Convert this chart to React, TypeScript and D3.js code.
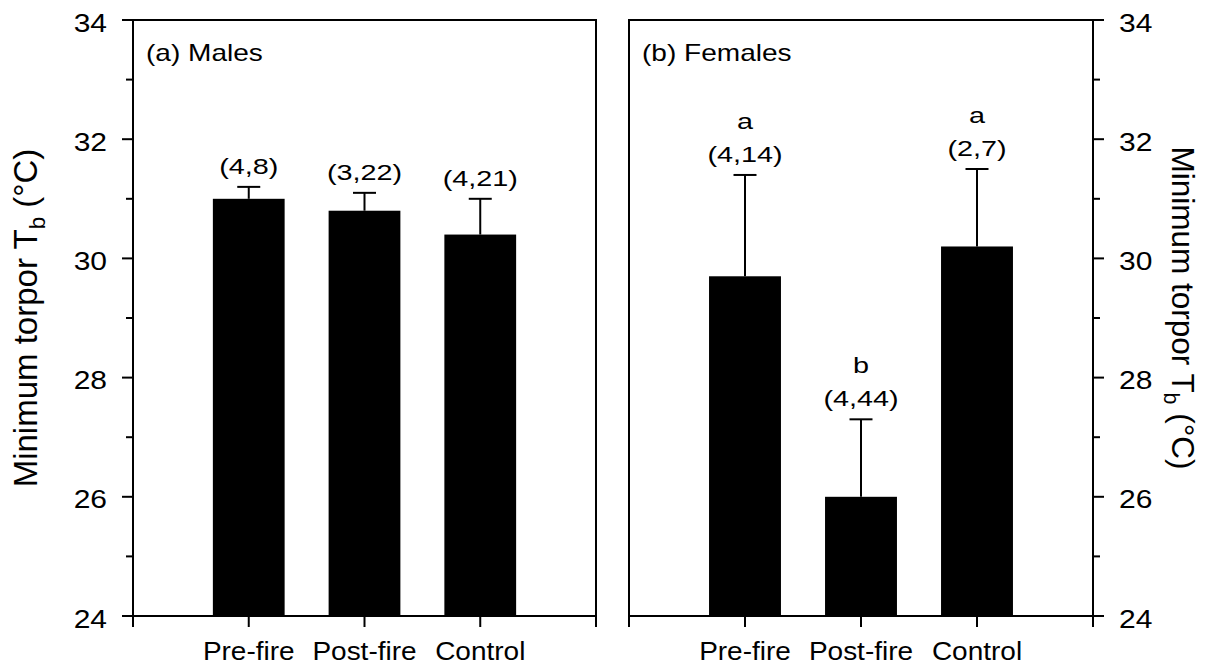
import React from "react";
import * as d3 from "d3";

const categories = ["Pre-fire", "Post-fire", "Control"];
const maleMeans = [31.0, 30.8, 30.4];
const maleUpper = [31.2, 31.1, 31.0];
const maleN = ["(4,8)", "(3,22)", "(4,21)"];
const femaleMeans = [29.7, 26.0, 30.2];
const femaleUpper = [31.4, 27.3, 31.5];
const femaleN = ["(4,14)", "(4,44)", "(2,7)"];
const femaleLetters = ["a", "b", "a"];
const majorTicks = [24, 26, 28, 30, 32, 34];
const minorTicks = [25, 27, 29, 31, 33];

const W = 1208;
const H = 670;
const TOP = 20;
const BOTTOM = 616;
const FONT = "'Liberation Sans', Arial, sans-serif";

const y = d3.scaleLinear().domain([24, 34]).range([BOTTOM, TOP]);

function T({ x, y: yy, size, sx = 1.2, anchor = "middle", children }: any) {
  return (
    <text
      transform={`translate(${x},${yy}) scale(${sx},1)`}
      fontSize={size}
      textAnchor={anchor}
      fontFamily={FONT}
      fill="#000"
    >
      {children}
    </text>
  );
}

function Panel({ x0, x1, means, upper, nLabels, letters, title, side }: any) {
  const x = d3.scaleLinear().domain([0, 4]).range([x0, x1]);
  const bw = x(0.62) - x(0);
  const capW = 23;
  const axisX = side === "left" ? x0 : x1;
  const dir = side === "left" ? -1 : 1;
  return (
    <g>
      <rect x={x0} y={TOP} width={x1 - x0} height={BOTTOM - TOP} fill="none" stroke="#000" strokeWidth={2} />
      {means.map((m: number, i: number) => (
        <rect key={"b" + i} x={x(i + 1) - bw / 2} y={y(m)} width={bw} height={y(24) - y(m)} fill="#000" />
      ))}
      {upper.map((u: number, i: number) => (
        <g key={"e" + i} stroke="#000" strokeWidth={2}>
          <line x1={x(i + 1)} x2={x(i + 1)} y1={y(means[i])} y2={y(u)} />
          <line x1={x(i + 1) - capW / 2} x2={x(i + 1) + capW / 2} y1={y(u)} y2={y(u)} />
        </g>
      ))}
      {nLabels.map((s: string, i: number) => (
        <T key={"n" + i} x={x(i + 1)} y={y(upper[i]) - 13} size={22.5} sx={1.28}>
          {s}
        </T>
      ))}
      {letters &&
        letters.map((s: string, i: number) => (
          <T key={"l" + i} x={x(i + 1)} y={y(upper[i]) - 46} size={22.5} sx={1.28}>
            {s}
          </T>
        ))}
      {[0, 1, 2, 3, 4].map((v) => (
        <line key={"xt" + v} x1={x(v)} x2={x(v)} y1={BOTTOM} y2={BOTTOM + 11} stroke="#000" strokeWidth={2} />
      ))}
      {categories.map((c, i) => (
        <T key={"c" + i} x={x(i + 1)} y={660} size={25} sx={1.12}>
          {c}
        </T>
      ))}
      {majorTicks.map((t) => (
        <g key={"mt" + t}>
          <line x1={axisX} x2={axisX + dir * 11} y1={y(t)} y2={y(t)} stroke="#000" strokeWidth={2} />
          <T x={axisX + dir * 26} y={y(t) + 11.5} size={25} sx={1.2} anchor={side === "left" ? "end" : "start"}>
            {t}
          </T>
        </g>
      ))}
      {minorTicks.map((t) => (
        <line key={"nt" + t} x1={axisX} x2={axisX + dir * 7} y1={y(t)} y2={y(t)} stroke="#000" strokeWidth={2} />
      ))}
      <T x={x0 + 13} y={60.5} size={23} sx={1.22} anchor="start">
        {title}
      </T>
    </g>
  );
}

function AxisTitle({ x, cy, rot, size }: any) {
  return (
    <text
      transform={`translate(${x},${cy}) rotate(${rot})`}
      fontSize={size}
      textAnchor="middle"
      fontFamily={FONT}
      fill="#000"
    >
      Minimum torpor T
      <tspan fontSize={size * 0.68} dy={size * 0.24}>
        b
      </tspan>
      <tspan dy={-size * 0.24}> (°C)</tspan>
    </text>
  );
}

export default function App() {
  return (
    <svg width={W} height={H} style={{ position: "absolute", left: 0, top: 0, background: "#fff" }}>
      <rect width={W} height={H} fill="#fff" />
      <Panel x0={133} x1={596} means={maleMeans} upper={maleUpper} nLabels={maleN} title="(a) Males" side="left" />
      <Panel
        x0={629}
        x1={1093}
        means={femaleMeans}
        upper={femaleUpper}
        nLabels={femaleN}
        letters={femaleLetters}
        title="(b) Females"
        side="right"
      />
      <AxisTitle x={37} cy={318} rot={-90} size={33} />
      <AxisTitle x={1172} cy={308} rot={90} size={31.5} />
    </svg>
  );
}
